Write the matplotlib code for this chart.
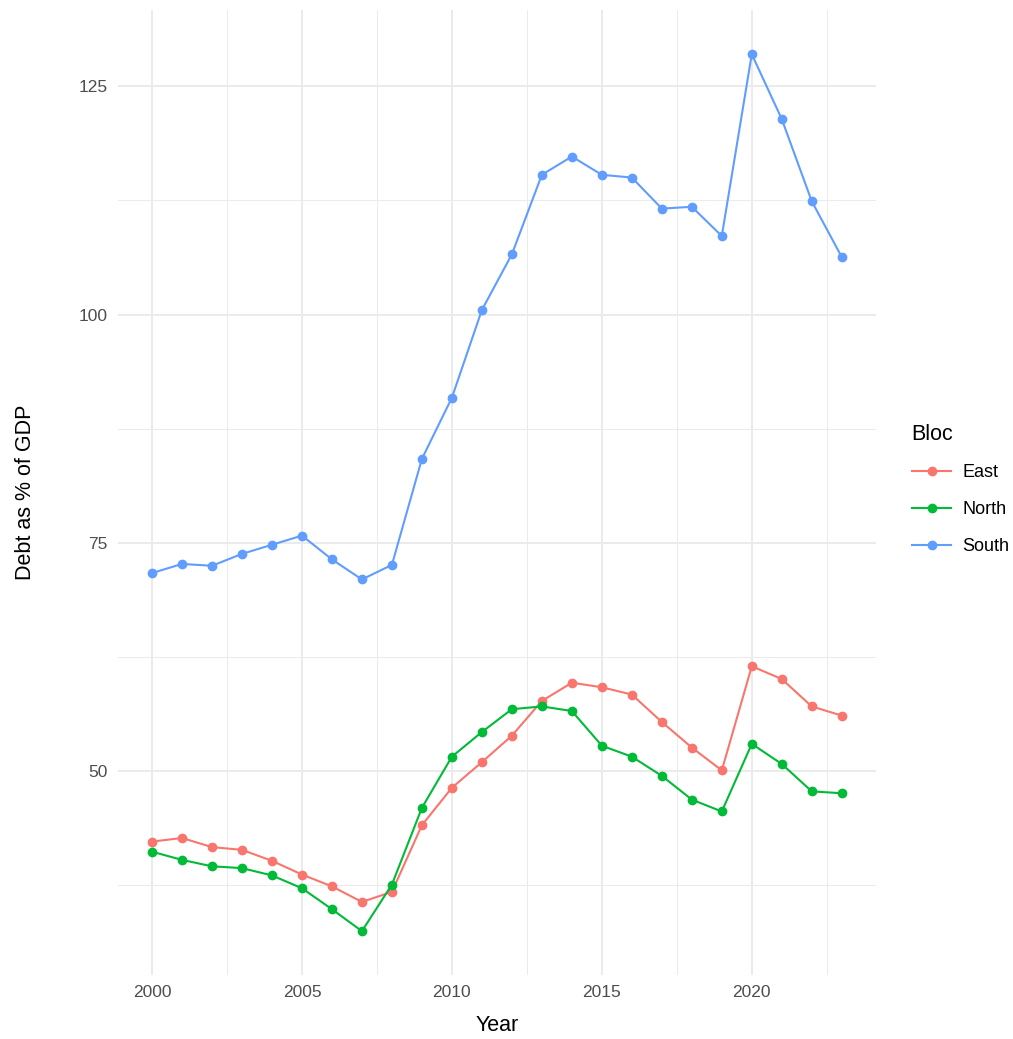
import matplotlib
matplotlib.use('Agg')
import matplotlib.pyplot as plt
import numpy as np

years = list(range(2000, 2024))
east = [42.3, 42.7, 41.7, 41.4, 40.2, 38.7, 37.4, 35.7, 36.8, 44.1, 48.2, 51.0,
        53.9, 57.7, 59.7, 59.2, 58.4, 55.4, 52.6, 50.1, 61.5, 60.1, 57.1, 56.1]
north = [41.2, 40.3, 39.6, 39.4, 38.6, 37.2, 34.9, 32.5, 37.6, 46.0, 51.6, 54.3,
         56.8, 57.1, 56.6, 52.8, 51.6, 49.5, 46.9, 45.6, 53.0, 50.8, 47.8, 47.6]
south = [71.7, 72.7, 72.5, 73.8, 74.8, 75.8, 73.2, 71.0, 72.6, 84.2, 90.9, 100.5,
         106.6, 115.3, 117.3, 115.3, 115.0, 111.6, 111.8, 108.6, 128.5, 121.4, 112.4, 106.3]

blocs = ['East', 'North', 'South']
series = [east, north, south]
colors = ['#F8766D', '#00BA38', '#619CFF']

plt.rcParams['font.family'] = ['Liberation Sans', 'DejaVu Sans']

fig = plt.figure(figsize=(10.13, 10.39), dpi=100)
ax = fig.add_axes([0.116, 0.0616, 0.749, 0.9284])

for name, vals, col in zip(blocs, series, colors):
    ax.plot(years, vals, color=col, lw=1.5, marker='o', ms=6, label=name)

ax.set_xlim(1998.85, 2024.15)
ax.set_ylim(27.7, 133.3)
ax.set_xticks([2000, 2005, 2010, 2015, 2020])
ax.set_xticks([2002.5, 2007.5, 2012.5, 2017.5, 2022.5], minor=True)
ax.set_yticks([50, 75, 100, 125])
ax.set_yticks([37.5, 62.5, 87.5, 112.5], minor=True)
ax.grid(which='major', color='#EBEBEB', lw=1.4)
ax.grid(which='minor', color='#EBEBEB', lw=0.7)
ax.set_axisbelow(True)
for s in ax.spines.values():
    s.set_visible(False)
ax.tick_params(which='both', length=0, labelsize=12.5, labelcolor='#4D4D4D', pad=7)
ax.set_xlabel('Year', fontsize=15.5, labelpad=11)
ax.set_ylabel('Debt as % of GDP', fontsize=15.5, labelpad=31)

leg = fig.legend(title='Bloc', loc='upper left', bbox_to_anchor=(0.884, 0.608),
                 frameon=False, fontsize=13, title_fontsize=15.5,
                 handlelength=2.2, handletextpad=0.6, labelspacing=1.1)
leg._legend_box.align = 'left'

plt.savefig('out.png', dpi=100)
